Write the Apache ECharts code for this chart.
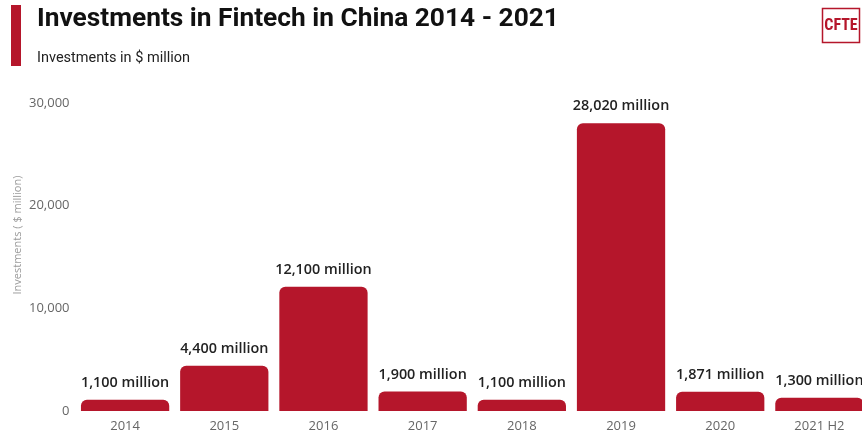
<!DOCTYPE html>
<html>
<head>
<meta charset="utf-8">
<script src="https://cdn.jsdelivr.net/npm/echarts@6/dist/echarts.min.js"></script>
<style>
  html, body { margin: 0; padding: 0; background: #fff; }
  #chart { width: 862px; height: 438px; }
</style>
</head>
<body>
<div id="chart"></div>
<script>
// Fintech investment in China, $ million per year
const categories = ['2014', '2015', '2016', '2017', '2018', '2019', '2020', '2021 H2'];
const investments = [1100, 4400, 12100, 1900, 1100, 28020, 1871, 1300];
const yTicks = [0, 10000, 20000, 30000];

const RED = '#b5162b';
const chart = echarts.init(document.getElementById('chart'), null, { renderer: 'canvas' });

const fmt = v => v.toLocaleString('en-US');

chart.setOption({
  animation: false,
  backgroundColor: '#fff',
  title: {
    text: 'Investments in Fintech in China 2014 - 2021',
    subtext: 'Investments in $ million',
    left: 32,
    top: 1,
    itemGap: 19,
    textStyle: { fontFamily: 'Roboto', fontWeight: 'bold', fontSize: 26.3, color: '#111' },
    subtextStyle: { fontFamily: 'Roboto', fontSize: 14.5, color: '#222' }
  },
  graphic: [
    // accent bar beside the heading
    { type: 'rect', shape: { x: 11, y: 5, width: 10, height: 61 }, style: { fill: RED } },
    // brand badge
    { type: 'rect', shape: { x: 822.5, y: 8.5, width: 37, height: 34 }, style: { fill: '#fff', stroke: RED, lineWidth: 1.5 } },
    { type: 'text', x: 841, y: 26, style: { text: 'CFTE', fill: RED, font: 'bold 16px "Roboto Condensed", "Liberation Sans Narrow", Roboto', align: 'center', verticalAlign: 'middle' } },
    // value-axis title, rotated
    { type: 'text', x: 18, y: 235, rotation: Math.PI / 2,
      style: { text: 'Investments ( $ million)', fill: '#9a9a9a', font: '11px "Open Sans"', align: 'center', verticalAlign: 'middle' } }
  ],
  grid: { left: 75.5, width: 793.5, top: 103, bottom: 27, containLabel: false, outerBoundsMode: 'none' },
  xAxis: {
    type: 'category',
    data: categories,
    axisLine: { show: false },
    axisTick: { show: false },
    axisLabel: { color: '#666', fontFamily: 'Open Sans', fontSize: 13, margin: 9 }
  },
  yAxis: {
    type: 'value',
    min: yTicks[0],
    max: yTicks[yTicks.length - 1],
    interval: yTicks[1] - yTicks[0],
    axisLine: { show: false },
    axisTick: { show: false },
    splitLine: { show: false },
    axisLabel: { color: '#666', fontFamily: 'Open Sans', fontSize: 13, margin: 6, formatter: v => fmt(v) }
  },
  series: [{
    type: 'bar',
    data: investments,
    barCategoryGap: '11%',
    itemStyle: { color: RED, borderRadius: [6, 6, 0, 0] },
    label: {
      show: true,
      position: 'top',
      distance: 10,
      color: '#222',
      fontFamily: 'Open Sans',
      fontWeight: 600,
      fontSize: 14.4,
      formatter: p => fmt(p.value) + ' million'
    }
  }]
});
</script>
</body>
</html>
